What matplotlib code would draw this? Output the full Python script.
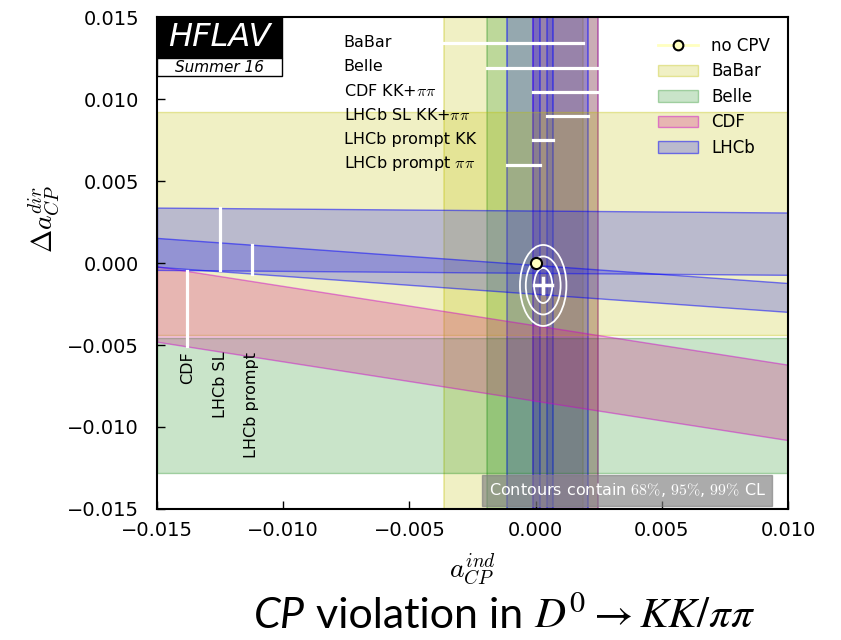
import matplotlib
matplotlib.use("Agg")
import matplotlib.pyplot as plt
import numpy as np
from matplotlib.patches import Ellipse, Rectangle, Patch
from matplotlib.lines import Line2D
from matplotlib.offsetbox import TextArea, HPacker, AnchoredOffsetbox

plt.rcParams["mathtext.fontset"] = "cm"

# A_Gamma style measurements -> constraints on a_CP^ind (vertical bands)
ind_labels = ["BaBar", "Belle", r"CDF KK+$\pi\pi$", r"LHCb SL KK+$\pi\pi$",
              "LHCb prompt KK", r"LHCb prompt $\pi\pi$"]
ind_exp = ["BaBar", "Belle", "CDF", "LHCb", "LHCb", "LHCb"]
ind_center = [-0.00088, 0.00027, 0.00119, 0.00126, 0.00030, -0.00048]
ind_err = [0.00276, 0.00220, 0.00129, 0.00081, 0.00040, 0.00065]

# Delta A_CP measurements -> bands in (a_ind, Delta a_dir)
dir_labels = ["BaBar", "Belle", "CDF", "LHCb SL", "LHCb prompt"]
dir_exp = ["BaBar", "Belle", "CDF", "LHCb", "LHCb"]
dir_center = [0.0024, -0.0087, -0.0061, 0.0013, -0.0010]
dir_err = [0.0068, 0.0041, 0.0023, 0.0019, 0.00088]
dir_slope = [0.0, 0.0, -0.24, -0.012, -0.11]
dir_mark_x = [None, None, -0.0138, -0.0125, -0.01124]

# combined fit
fit_x, fit_y = 0.0003, -0.00137
fit_ex, fit_ey = 0.00035, 0.00045
cont_rx = [0.00036, 0.00069, 0.00092]
cont_ry = [0.00107, 0.00177, 0.00247]

experiments = ["BaBar", "Belle", "CDF", "LHCb"]
face = {"BaBar": ("#BFBF00", 0.23), "Belle": ("#008000", 0.21),
        "CDF": ("#D01C82", 0.27), "LHCb": ("#2E2EE6", 0.28)}
edge = {"BaBar": ("#BFBF00", 0.35), "Belle": ("#008000", 0.3),
        "CDF": ("#CC00CC", 0.45), "LHCb": ("#0000FF", 0.5)}


def rgba(spec):
    return matplotlib.colors.to_rgba(spec[0], spec[1])


def fmt(v, pos):
    return "{:.3f}".format(v).replace("-", "\u2212")


fig = plt.figure(figsize=(8.41, 6.4), dpi=100)
ax = fig.add_axes([0.1867, 0.2047, 0.7503, 0.7687])
xlo, xhi = -0.015, 0.010
ylo, yhi = -0.015, 0.015

# vertical bands
for c, e, ex in zip(ind_center, ind_err, ind_exp):
    ax.axvspan(c - e, c + e, facecolor=rgba(face[ex]), edgecolor=rgba(edge[ex]),
               linewidth=1.2, zorder=1)

# slanted / horizontal bands
xs = np.array([xlo, xhi])
for c, e, m, ex in zip(dir_center, dir_err, dir_slope, dir_exp):
    ax.fill_between(xs, c + m * xs - e, c + m * xs + e, facecolor=rgba(face[ex]),
                    edgecolor=rgba(edge[ex]), linewidth=1.0, zorder=1)

# white markers of individual measurements (top)
for i, (lab, c, e) in enumerate(zip(ind_labels, ind_center, ind_err)):
    yy = 0.0134 - i * 0.00148
    ax.plot([c - e, c + e], [yy, yy], color="white", lw=2.3, zorder=3)
    ax.text(-0.0076, yy + 0.00005, lab, fontsize=11.5, ha="left", va="center", zorder=4)

# white markers of Delta A_CP measurements (left)
for lab, c, e, m, mx in zip(dir_labels, dir_center, dir_err, dir_slope, dir_mark_x):
    if mx is None:
        continue
    ax.plot([mx, mx], [c + m * mx - e, c + m * mx + e], color="white", lw=2.3, zorder=3)
    ax.text(mx, -0.0054, lab, rotation=90, fontsize=11.5, ha="center", va="top", zorder=4)

# contours and fit result
for rx, ry in zip(cont_rx, cont_ry):
    ax.add_patch(Ellipse((fit_x, fit_y), 2 * rx, 2 * ry, fill=False,
                         edgecolor="white", lw=1.3, zorder=5))
ax.plot([fit_x - fit_ex, fit_x + fit_ex], [fit_y, fit_y], color="white", lw=2.5, zorder=5)
ax.plot([fit_x, fit_x], [fit_y - fit_ey, fit_y + fit_ey], color="white", lw=2.5, zorder=5)
ax.plot([0], [0], "o", color="#FFFFC0", mec="black", mew=1.5, ms=8, zorder=6)

ax.set_xlim(xlo, xhi)
ax.set_ylim(ylo, yhi)
ax.set_xticks(np.arange(-0.015, 0.0101, 0.005))
ax.set_yticks(np.arange(-0.015, 0.0151, 0.005))
ax.xaxis.set_major_formatter(matplotlib.ticker.FuncFormatter(fmt))
ax.yaxis.set_major_formatter(matplotlib.ticker.FuncFormatter(fmt))
ax.tick_params(direction="in", length=6, width=1, labelsize=14)
ax.tick_params(axis="x", pad=9)
ax.tick_params(axis="y", pad=13)
for s in ax.spines.values():
    s.set_linewidth(1.5)

ax.set_ylabel(r"$\Delta a_{CP}^{dir}$", fontsize=20)
ax.yaxis.set_label_coords(-0.15, 0.59)
ax.set_xlabel(r"$a_{CP}^{ind}$", fontsize=20)
ax.xaxis.set_label_coords(0.5, -0.085)

# legend
handles = [Line2D([0], [0], color="#FFFFC0", marker="o", mfc="#FFFFC0", mec="black",
                  mew=1.5, ms=7, lw=2)]
for ex in experiments:
    handles.append(Patch(facecolor=rgba(face[ex]), edgecolor=rgba(edge[ex])))
ax.legend(handles, ["no CPV"] + experiments, loc="upper right", frameon=False,
          fontsize=12, handlelength=2.4, labelspacing=0.45,
          bbox_to_anchor=(0.995, 0.99))

# HFLAV logo
ax.add_patch(Rectangle((0, 0.9167), 0.198, 0.0833, transform=ax.transAxes,
                       facecolor="black", edgecolor="black", zorder=7, clip_on=False))
ax.add_patch(Rectangle((0, 0.880), 0.198, 0.0367, transform=ax.transAxes,
                       facecolor="white", edgecolor="black", lw=1, zorder=7))
ax.text(0.099, 0.958, "HFLAV", transform=ax.transAxes, color="white", fontsize=23,
        style="italic", ha="center", va="center", zorder=8)
ax.text(0.099, 0.898, "Summer 16", transform=ax.transAxes, color="black", fontsize=11,
        style="italic", ha="center", va="center", zorder=8)

# contour note
ax.text(0.965, 0.038, r"Contours contain $68\%$, $95\%$, $99\%$ CL", transform=ax.transAxes,
        color="white", fontsize=11.5, ha="right", va="center", zorder=8,
        bbox=dict(boxstyle="square,pad=0.4", facecolor="#7F7F7F", edgecolor="#7F7F7F",
                  alpha=0.65))

# slide caption
tp = dict(fontsize=31, family="Lato", color="black")
parts = [TextArea("CP", textprops=dict(tp, style="italic")),
         TextArea("violation in", textprops=tp),
         TextArea(r"$D^0 \rightarrow KK/\pi\pi$", textprops=dict(tp, math_fontfamily="stix"))]
box = HPacker(children=parts, align="baseline", pad=0, sep=8)
anch = AnchoredOffsetbox(loc="lower center", child=box, frameon=False, pad=0, borderpad=0,
                         bbox_to_anchor=(0.6, 0.008), bbox_transform=fig.transFigure)
fig.add_artist(anch)

fig.savefig("out.png", dpi=100)
